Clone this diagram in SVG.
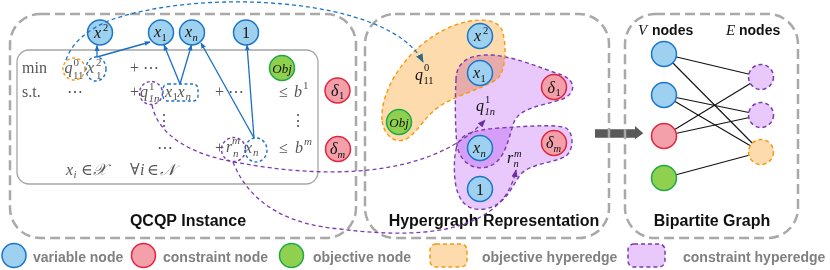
<svg xmlns="http://www.w3.org/2000/svg" width="830" height="270" viewBox="0 0 830 270">
<defs>
<style>
.panel{fill:none;stroke:#a9a9a9;stroke-width:2.5;stroke-dasharray:10 5}
.inner{fill:none;stroke:#a6a6a6;stroke-width:1.3}
.v{fill:#9dd1ef;stroke:#1a74c9;stroke-width:1.5}
.c{fill:#f3a0aa;stroke:#e2243c;stroke-width:1.5}
.o{fill:#8fd14f;stroke:#1fa745;stroke-width:1.5}
.nl{font-family:"Liberation Serif","DejaVu Serif",serif;font-style:italic;font-size:16px;fill:#111}
.up{font-style:normal}
.sm{font-size:10.5px}
.ctr{text-anchor:middle}
.m{font-family:"Liberation Serif","DejaVu Serif",serif;font-size:16px;fill:#555}
.mi{font-style:italic}
.ms{font-size:11px}
.title{font-family:"Liberation Sans",Arial,sans-serif;font-weight:bold;font-size:16px;fill:#111;text-anchor:middle}
.hd{font-family:"Liberation Sans",Arial,sans-serif;font-weight:bold;font-size:14px;fill:#111}
.leg{font-family:"Liberation Sans",Arial,sans-serif;font-weight:bold;font-size:14px;fill:#808080}
.blue{fill:none;stroke:#1a6fc4;stroke-width:1.3}
.bdash{fill:none;stroke:#1a74c9;stroke-width:1.3;stroke-dasharray:4 3}
.pdash{fill:none;stroke:#7a3bb0;stroke-width:1.3;stroke-dasharray:4 3}
.ofill{fill:#fddbad;mix-blend-mode:multiply}
.pfill{fill:#e9c9fb;mix-blend-mode:multiply}
.ostroke{fill:none;stroke:#f59a10;stroke-width:1.4;stroke-dasharray:4 3}
.pstroke{fill:none;stroke:#7a3bb0;stroke-width:1.4;stroke-dasharray:4 3}
.ve{fill:#e9c9fb;stroke:#7a3bb0;stroke-width:1.5;stroke-dasharray:4 3}
.oe{fill:#fddbad;stroke:#f59a10;stroke-width:1.5;stroke-dasharray:4 3}
.bip{stroke:#111;stroke-width:1.1}
</style>
<marker id="ab" viewBox="0 0 10 10" refX="9" refY="5" markerWidth="6" markerHeight="6" markerUnits="userSpaceOnUse" orient="auto"><path d="M0,1 L10,5 L0,9 Z" fill="#1a6fc4"/></marker>
<marker id="ap" viewBox="0 0 10 10" refX="9" refY="5" markerWidth="8" markerHeight="8" markerUnits="userSpaceOnUse" orient="auto"><path d="M0,1 L10,5 L0,9 Z" fill="#6a2ea0"/></marker>
<marker id="aq" viewBox="0 0 10 10" refX="9" refY="5" markerWidth="9" markerHeight="9" markerUnits="userSpaceOnUse" orient="auto"><path d="M0,1 L10,5 L0,9 Z" fill="#2f6b86"/></marker>
</defs>
<rect width="830" height="270" fill="#fff"/>

<!-- transition arrow -->
<path d="M595,129.3 L635,129.3 L635,126 L643.3,133.3 L635,139.3 L635,137.7 L595,137.7 Z" fill="#595959"/>

<!-- panels -->
<g id="panel-qcqp">
<rect class="panel" x="10" y="14" width="346" height="224" rx="30"/>
<rect class="inner" x="17" y="50" width="301" height="134" rx="12"/>
<text class="title" x="188" y="226">QCQP Instance</text>
</g>
<g id="panel-hypergraph">
<rect class="panel" x="365" y="14" width="244" height="224" rx="30"/>
<text class="title" x="494" y="226">Hypergraph Representation</text>
</g>
<g id="panel-bipartite">
<rect class="panel" x="625" y="14" width="173" height="224" rx="30"/>
<text class="title" x="712" y="226">Bipartite Graph</text>
<text class="nl" x="638" y="35" style="font-size:15px">V</text><text class="hd" x="652" y="35">nodes</text>
<text class="nl" x="726" y="35" style="font-size:15px">E</text><text class="hd" x="739" y="35">nodes</text>
</g>

<!-- math of QCQP instance -->
<g id="math">
<text class="m" x="22" y="73">min</text>
<text class="m" x="22" y="97">s.t.</text>
<!-- q11^0 x1^2 -->
<text class="m mi" x="64.5" y="73">q</text><text class="m ms" x="73.5" y="66">0</text><text class="m ms" x="73" y="79">11</text>
<text class="m mi" x="87" y="73">x</text><text class="m ms" x="96" y="66">2</text><text class="m ms" x="96" y="79">1</text>
<text class="m" x="130" y="73">+ ⋯</text>
<!-- s.t. row -->
<text class="m" x="67" y="97">⋯</text>
<text class="m" x="130" y="97">+</text>
<text class="m mi" x="140" y="97">q</text><text class="m ms" x="149" y="90">1</text><text class="m ms mi" x="148.5" y="102">1n</text>
<text class="m mi" x="165" y="97">x</text><text class="m ms" x="172.5" y="100">1</text><text class="m mi" x="177.5" y="97">x</text><text class="m ms mi" x="185.5" y="100">n</text>
<text class="m" x="215" y="97">+ ⋯</text>
<text class="m" x="279" y="97">≤</text><text class="m mi" x="294" y="97">b</text><text class="m ms" x="303" y="89">1</text>
<text class="m ctr" x="164" y="126">⋮</text>
<text class="m ctr" x="298" y="126">⋮</text>
<!-- m row -->
<text class="m" x="157" y="153">⋯</text>
<text class="m" x="215" y="153">+</text>
<text class="m mi" x="226" y="152">r</text><text class="m ms mi" x="232" y="144">m</text><text class="m ms mi" x="233" y="157">n</text>
<text class="m mi" x="245" y="153">x</text><text class="m ms mi" x="253" y="156">n</text>
<text class="m" x="279" y="153">≤</text><text class="m mi" x="295" y="153">b</text><text class="m ms mi" x="304" y="145">m</text>
<!-- domain -->
<text class="m mi" x="66" y="175">x</text><text class="m ms mi" x="73.5" y="178">i</text>
<text class="m" x="81" y="175">∈</text><text class="m mi" x="93" y="175">𝒳</text>
<text class="m" x="130" y="175">∀</text><text class="m mi" x="140" y="175">i</text>
<text class="m" x="147" y="175">∈</text><text class="m mi" x="160" y="175">𝒩</text>
<!-- dashed highlight shapes -->
<circle cx="74" cy="69" r="11" fill="none" stroke="#f59a10" stroke-width="1.4" stroke-dasharray="3 2.5"/>
<ellipse cx="96" cy="69" rx="10" ry="12" fill="none" stroke="#1a74c9" stroke-width="1.4" stroke-dasharray="3 2.5"/>
<circle cx="151" cy="93" r="11.5" fill="none" stroke="#7a3bb0" stroke-width="1.4" stroke-dasharray="3 2.5"/>
<rect x="163" y="84" width="35" height="17" rx="5" fill="none" stroke="#1a74c9" stroke-width="1.4" stroke-dasharray="3 2.5"/>
<circle cx="233.5" cy="149.5" r="12" fill="none" stroke="#7a3bb0" stroke-width="1.4" stroke-dasharray="3 2.5"/>
<ellipse cx="256" cy="150" rx="11" ry="12" fill="none" stroke="#1a74c9" stroke-width="1.4" stroke-dasharray="3 2.5"/>
</g>

<!-- hyperedges -->
<g id="hyperedges">
<g style="isolation:isolate">
<path class="pfill" d="M456,80 C456,65 465,56 485,55 C510,54 540,68 562,75 C578,82 575,95 560,100 C540,106 520,108 514,122 C508,140 505,160 490,166 C475,172 460,163 457,145 C455,125 455,100 456,80 Z"/>
<path class="pfill" d="M456,150 C458,135 470,130 500,128 C530,126 555,124 566,128 C574,133 574,150 566,156 C555,163 530,163 520,175 C510,190 505,205 485,209 C465,212 457,198 455,180 C454,170 454,158 456,150 Z"/>
<path class="ofill" d="M382,120 C380,95 400,55 440,32 C465,18 495,15 502,30 C507,45 506,70 498,78 C490,86 465,92 445,103 C425,114 420,130 408,138 C398,145 384,138 382,120 Z"/>
</g>
<path class="pstroke" d="M456,80 C456,65 465,56 485,55 C510,54 540,68 562,75 C578,82 575,95 560,100 C540,106 520,108 514,122 C508,140 505,160 490,166 C475,172 460,163 457,145 C455,125 455,100 456,80 Z"/>
<path class="pstroke" d="M456,150 C458,135 470,130 500,128 C530,126 555,124 566,128 C574,133 574,150 566,156 C555,163 530,163 520,175 C510,190 505,205 485,209 C465,212 457,198 455,180 C454,170 454,158 456,150 Z"/>
<path class="ostroke" d="M382,120 C380,95 400,55 440,32 C465,18 495,15 502,30 C507,45 506,70 498,78 C490,86 465,92 445,103 C425,114 420,130 408,138 C398,145 384,138 382,120 Z"/>
<!-- hyperedge labels -->
<text class="nl" x="415" y="80">q</text><text class="nl sm up" x="424" y="71">0</text><text class="nl sm up" x="423.5" y="84">11</text>
<text class="nl" x="476" y="111">q</text><text class="nl sm up" x="485" y="103">1</text><text class="nl sm" x="484.5" y="115">1n</text>
<text class="nl" x="507" y="163">r</text><text class="nl sm" x="514" y="157">m</text><text class="nl sm" x="513.5" y="167">n</text>
</g>

<!-- QCQP nodes -->
<g id="q-x2"><circle class="v" cx="100" cy="32.5" r="12.5"/><text class="nl" x="94" y="38">x</text><text class="nl sm up" x="103" y="31">2</text></g>
<g id="q-x1"><circle class="v" cx="161" cy="32.5" r="12.5"/><text class="nl" x="154" y="37">x</text><text class="nl sm up" x="161.5" y="41">1</text></g>
<g id="q-xn"><circle class="v" cx="192" cy="32.5" r="12.5"/><text class="nl" x="185" y="37">x</text><text class="nl sm" x="192.5" y="41">n</text></g>
<g id="q-one"><circle class="v" cx="246" cy="32.5" r="12.5"/><text class="nl up ctr" x="246" y="38">1</text></g>
<g id="q-obj"><circle class="o" cx="282" cy="68" r="12.5"/><text class="nl ctr" x="282" y="72.5" style="font-size:13px">Obj</text></g>
<g id="q-d1"><circle class="c" cx="337.5" cy="90.5" r="12.5"/><text class="nl" x="331" y="96">δ</text><text class="nl sm up" x="339" y="99">1</text></g>
<g id="q-dm"><circle class="c" cx="338" cy="149" r="12.5"/><text class="nl" x="330" y="154">δ</text><text class="nl sm" x="337.5" y="158">m</text></g>

<!-- Hypergraph nodes -->
<g id="h-x2"><circle class="v" cx="480" cy="36" r="12.5"/><text class="nl" x="474" y="41">x</text><text class="nl sm up" x="483" y="34">2</text></g>
<g id="h-x1"><circle class="v" cx="480" cy="73" r="12.5"/><text class="nl" x="473" y="77.5">x</text><text class="nl sm up" x="480.5" y="81.5">1</text></g>
<g id="h-obj"><circle class="o" cx="399" cy="122" r="12.5"/><text class="nl ctr" x="399" y="126.5" style="font-size:13px">Obj</text></g>
<g id="h-d1"><circle class="c" cx="554" cy="87" r="12.5"/><text class="nl" x="547.5" y="92.5">δ</text><text class="nl sm up" x="555.5" y="95.5">1</text></g>
<g id="h-xn"><circle class="v" cx="480" cy="148" r="12.5"/><text class="nl" x="473" y="152.5">x</text><text class="nl sm" x="480.5" y="156.5">n</text></g>
<g id="h-dm"><circle class="c" cx="554" cy="143" r="12.5"/><text class="nl" x="546" y="148">δ</text><text class="nl sm" x="553.5" y="152">m</text></g>
<g id="h-one"><circle class="v" cx="480" cy="189" r="12.5"/><text class="nl up ctr" x="480" y="194.5">1</text></g>

<!-- connectors -->
<g id="connectors">
<path class="blue" d="M97,57 L97,45.5" marker-end="url(#ab)"/>
<path class="blue" d="M97,57 L150,42" marker-end="url(#ab)"/>
<path class="blue" d="M180,84 L164,45" marker-end="url(#ab)"/>
<path class="blue" d="M180,84 L191.5,45" marker-end="url(#ab)"/>
<path class="blue" d="M254,138 L201,43" marker-end="url(#ab)"/>
<path class="blue" d="M254,138 L247,45" marker-end="url(#ab)"/>
<path class="bdash" d="M66,60 C72,42 88,30 108,21 C200,-13 390,-3 423,62" marker-end="url(#aq)"/>
<path class="pdash" d="M152,105 C158,135 190,155 240,163 C320,178 430,180 485,120" marker-end="url(#ap)"/>
<path class="pdash" d="M233,162 C250,205 290,225 340,229 C440,242 505,225 516,170" marker-end="url(#ap)"/>
<!-- bipartite edges -->
<line class="bip" x1="664" y1="54" x2="761" y2="77"/>
<line class="bip" x1="664" y1="54" x2="761" y2="152"/>
<line class="bip" x1="664" y1="95" x2="761" y2="115"/>
<line class="bip" x1="664" y1="95" x2="761" y2="152"/>
<line class="bip" x1="664" y1="136" x2="761" y2="77"/>
<line class="bip" x1="664" y1="136" x2="761" y2="115"/>
<line class="bip" x1="664" y1="178" x2="761" y2="152"/>
</g>

<!-- Bipartite nodes -->
<g id="b-v1"><circle class="v" cx="664" cy="54" r="12.5"/></g>
<g id="b-v2"><circle class="v" cx="664" cy="95" r="12.5"/></g>
<g id="b-v3"><circle class="c" cx="664" cy="136" r="12.5"/></g>
<g id="b-v4"><circle class="o" cx="664" cy="178" r="12.5"/></g>
<g id="b-e1"><circle class="ve" cx="761" cy="77" r="12.5"/></g>
<g id="b-e2"><circle class="ve" cx="761" cy="115" r="12.5"/></g>
<g id="b-e3"><circle class="oe" cx="761" cy="152" r="12.5"/></g>

<!-- legend -->
<g id="legend">
<circle class="v" cx="14" cy="255.5" r="12"/><text class="leg" x="33" y="262">variable node</text>
<circle class="c" cx="143.5" cy="255.5" r="12"/><text class="leg" x="163" y="262">constraint node</text>
<circle class="o" cx="291.5" cy="255.5" r="12"/><text class="leg" x="313" y="262">objective node</text>
<rect class="oe" x="430" y="244" width="37" height="23" rx="6"/><text class="leg" x="482" y="262">objective hyperedge</text>
<rect class="ve" x="628" y="244" width="37" height="23" rx="6"/><text class="leg" x="683" y="262">constraint hyperedge</text>
</g>
</svg>
